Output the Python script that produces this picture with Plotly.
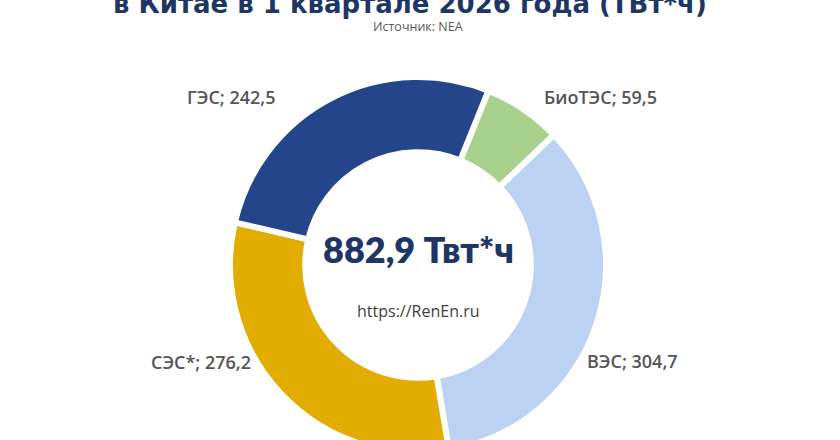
import plotly.graph_objects as go

labels = ["БиоТЭС", "ВЭС", "СЭС*", "ГЭС"]
values = [59.5, 304.7, 276.2, 242.5]
colors = ["#a9d18e", "#bcd2f3", "#e2ac00", "#24458a"]
title_text = "в Китае в 1 квартале 2026 года (ТВт*ч)"
source_text = "Источник: NEA"
unit = "Твт*ч"
site = "https://RenEn.ru"

W, H = 840, 460  # figure is taller than the 440 window; the bottom is hidden like in the reference

def px_x(x):
    return x / W

def px_y(y):
    return (H - y) / H

# outside label centres (pixels from top-left)
label_pos = {"БиоТЭС": (600, 97), "ВЭС": (632, 361), "СЭС*": (201, 362), "ГЭС": (231, 97)}

def fmt(v):
    return f"{v:.1f}".replace(".", ",")

total = sum(values)

cx, cy, R = 418, 265, 188
fig = go.Figure(go.Pie(
    labels=labels, values=values, sort=False, direction="clockwise", rotation=22,
    hole=0.60, marker=dict(colors=colors, line=dict(color="white", width=6)),
    textinfo="none", hoverinfo="label+value", showlegend=False,
    domain=dict(x=[px_x(cx - R), px_x(cx + R)], y=[px_y(cy + R), px_y(cy - R)]),
))

annotations = [
    dict(text=title_text, x=px_x(410), y=px_y(21.5), xref="paper", yref="paper",
         xanchor="center", yanchor="bottom", showarrow=False,
         font=dict(family="DejaVu Sans", size=26, color="#1f3566", weight=700)),
    dict(text=source_text, x=px_x(418), y=px_y(27), xref="paper", yref="paper",
         xanchor="center", yanchor="middle", showarrow=False,
         font=dict(family="Open Sans", size=12.5, color="#595959")),
    dict(text=f"{fmt(total)} {unit}", x=px_x(418), y=px_y(249), xref="paper", yref="paper",
         xanchor="center", yanchor="middle", showarrow=False,
         font=dict(family="Lato", size=36, color="#1f3566", weight=800)),
    dict(text=site, x=px_x(418), y=px_y(311), xref="paper", yref="paper",
         xanchor="center", yanchor="middle", showarrow=False,
         font=dict(family="Open Sans", size=16, color="#404040")),
]
for lab, v in zip(labels, values):
    lx, ly = label_pos[lab]
    annotations.append(dict(text=f"{lab}; {fmt(v)}", x=px_x(lx), y=px_y(ly), xref="paper", yref="paper",
                            xanchor="center", yanchor="middle", showarrow=False,
                            font=dict(family="Open Sans", size=18, color="#555555", weight=600)))

fig.update_layout(
    width=W, height=H, margin=dict(l=0, r=0, t=0, b=0),
    paper_bgcolor="white", plot_bgcolor="white", separators=", ",
    annotations=annotations,
)
fig.write_html("out.html", config={"displayModeBar": False},
               post_script="document.body.style.margin='0';document.body.style.overflow='hidden';")
